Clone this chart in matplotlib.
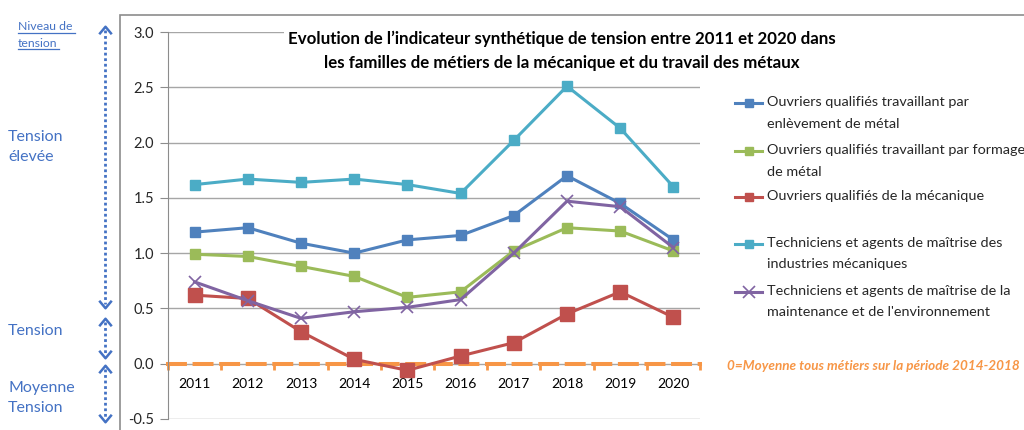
import matplotlib
matplotlib.use("Agg")
import matplotlib.pyplot as plt
import matplotlib.transforms as mtransforms
from matplotlib.path import Path
from matplotlib.lines import Line2D
from matplotlib.patches import Rectangle

plt.rcParams["font.family"] = ["Lato", "DejaVu Sans"]

years = ["2011", "2012", "2013", "2014", "2015", "2016", "2017", "2018", "2019", "2020"]

enlevement = [1.19, 1.23, 1.09, 1.00, 1.12, 1.16, 1.34, 1.70, 1.45, 1.12]
formage = [0.99, 0.97, 0.88, 0.79, 0.60, 0.65, 1.02, 1.23, 1.20, 1.02]
mecanique = [0.62, 0.59, 0.29, 0.04, -0.06, 0.07, 0.19, 0.45, 0.65, 0.42]
tam_industries = [1.62, 1.67, 1.64, 1.67, 1.62, 1.54, 2.02, 2.51, 2.13, 1.60]
tam_maintenance = [0.74, 0.57, 0.41, 0.47, 0.51, 0.58, 1.00, 1.47, 1.42, 1.05]

series_labels = [
    "Ouvriers qualifiés travaillant par\nenlèvement de métal",
    "Ouvriers qualifiés travaillant par formage\nde métal",
    "Ouvriers qualifiés de la mécanique",
    "Techniciens et agents de maîtrise des\nindustries mécaniques",
    "Techniciens et agents de maîtrise de la\nmaintenance et de l'environnement",
]

level_labels = ["Tension\nélevée", "Tension", "Moyenne\nTension"]
level_bounds = [(3.0, 0.5), (0.5, 0.0), (0.0, -0.5)]

title = ("Evolution de l\u2019indicateur synthétique de tension entre 2011 et 2020 dans\n"
         "les familles de métiers de la mécanique et du travail des métaux")
note = "0=Moyenne tous métiers sur la période 2014-2018"

W, H = 1024, 430
fig = plt.figure(figsize=(W / 100, H / 100), dpi=100)
ax = fig.add_axes([168 / W, 1 - 419 / H, 532 / W, 387 / H])

def fx(px):
    return px / W

def fy(py):
    return 1 - py / H

# outer frame
fig.patches.append(Rectangle((fx(120), -0.1), 1.0, fy(15) + 0.1, transform=fig.transFigure,
                             fill=False, edgecolor="#8c8c8c", lw=1.2))

x = list(range(len(years)))
series = [
    (enlevement, "#4F81BD", "s", 6.5, 1),
    (formage, "#9BBB59", "s", 6.5, 1),
    (mecanique, "#C0504D", "s", 9.5, 1),
    (tam_industries, "#4BACC6", "s", 6.5, 1),
    (tam_maintenance, "#8064A2", "x", 9, 1.2),
]

for vals, col, mk, ms, mew in series:
    ax.plot(x, vals, color=col, lw=2.2, marker=mk, markersize=ms, markeredgewidth=mew,
            markeredgecolor=col, zorder=3)

orange = "#F79646"
ax.set_xlim(-0.5, 9.5)
ax.set_ylim(-0.5, 3.0)
ax.set_yticks([-0.5, 0.0, 0.5, 1.0, 1.5, 2.0, 2.5, 3.0])
ax.set_yticklabels(["%.1f" % v for v in ax.get_yticks()], fontsize=10.5, color="#262626")
ax.set_xticks(x)
ax.set_xticklabels(years, fontsize=10.5, color="#262626")
ax.set_xticks([i - 0.5 for i in range(len(years) + 1)], minor=True)
ax.spines["bottom"].set_position(("data", 0))
ax.spines["bottom"].set_color(orange)
ax.spines["bottom"].set_linewidth(2.9)
ax.spines["bottom"].set_linestyle((0, (4.2, 2.4)))
ax.spines["bottom"].set_zorder(1)
ax.spines["top"].set_visible(False)
ax.spines["right"].set_visible(False)
ax.spines["left"].set_color("#8c8c8c")
ax.tick_params(axis="x", which="major", length=0, pad=10)
ax.tick_params(axis="x", which="minor", length=4, width=2, color=orange)
ax.tick_params(axis="y", length=6, color="#8c8c8c", pad=4)
ax.grid(axis="y", color="#a6a6a6", lw=1)
ax.set_axisbelow(True)
ax.patch.set_visible(False)

ax.text(0.74, 1.004, title, transform=ax.transAxes, ha="center", va="top",
        fontsize=12.2, fontweight="bold", linespacing=1.62,
        bbox=dict(facecolor="white", edgecolor="none", pad=3), zorder=5)

# manual legend (marker aligned with first text line)
legend_rows = [103, 151, 197, 244, 292]
for (vals, col, mk, ms, mew), lab, ry in zip(series, series_labels, legend_rows):
    fig.add_artist(Line2D([fx(735), fx(762)], [fy(ry), fy(ry)], color=col, lw=2.2,
                          transform=fig.transFigure))
    fig.add_artist(Line2D([fx(748.5)], [fy(ry)], color=col, marker=mk,
                          markersize=6 if mk == "s" else 8, markeredgewidth=mew,
                          transform=fig.transFigure))
    fig.text(fx(767), fy(ry - 7), lab, ha="left", va="top", fontsize=10.4,
             color="#262626", linespacing=1.95)

fig.text(fx(727), fy(366), note, ha="left", va="center", fontsize=9.7,
         style="italic", fontweight="bold", color=orange)

# left level annotations
blend = mtransforms.blended_transform_factory(fig.transFigure, ax.transData)
blue = "#4472C4"
up = Path([(-1, -0.6), (0, 0.6), (1, -0.6)], [Path.MOVETO, Path.LINETO, Path.LINETO])
down = Path([(-1, 0.6), (0, -0.6), (1, 0.6)], [Path.MOVETO, Path.LINETO, Path.LINETO])
gaps = [(0.02, 0.04), (0.12, 0.09), (0.05, 0.01)]
for (top, bot), (gt, gb) in zip(level_bounds, gaps):
    yt, yb = top + gt if top == 3.0 else top - gt, bot + gb
    ax.plot([fx(105), fx(105)], [yt, yb], transform=blend, color=blue, lw=2,
            linestyle=(0, (1, 1)), clip_on=False)
    ax.plot([fx(105)], [yt], transform=blend, marker=up, markersize=9, mfc="none",
            mec=blue, mew=1.8, clip_on=False)
    ax.plot([fx(105)], [yb], transform=blend, marker=down, markersize=9, mfc="none",
            mec=blue, mew=1.8, clip_on=False)

level_y = [147, 331, 398]
for lab, ly in zip(level_labels, level_y):
    fig.text(fx(8), fy(ly), lab, ha="left", va="center", fontsize=11.5, color=blue,
             linespacing=1.5)

fig.text(fx(18), fy(35), "Niveau de\ntension", ha="left", va="center", fontsize=8.8,
         color=blue, linespacing=1.75)
fig.add_artist(Line2D([fx(18), fx(75)], [fy(33), fy(33)], color=blue, lw=0.9,
                      transform=fig.transFigure))
fig.add_artist(Line2D([fx(18), fx(59)], [fy(49), fy(49)], color=blue, lw=0.9,
                      transform=fig.transFigure))

fig.savefig("out.png", dpi=100)
